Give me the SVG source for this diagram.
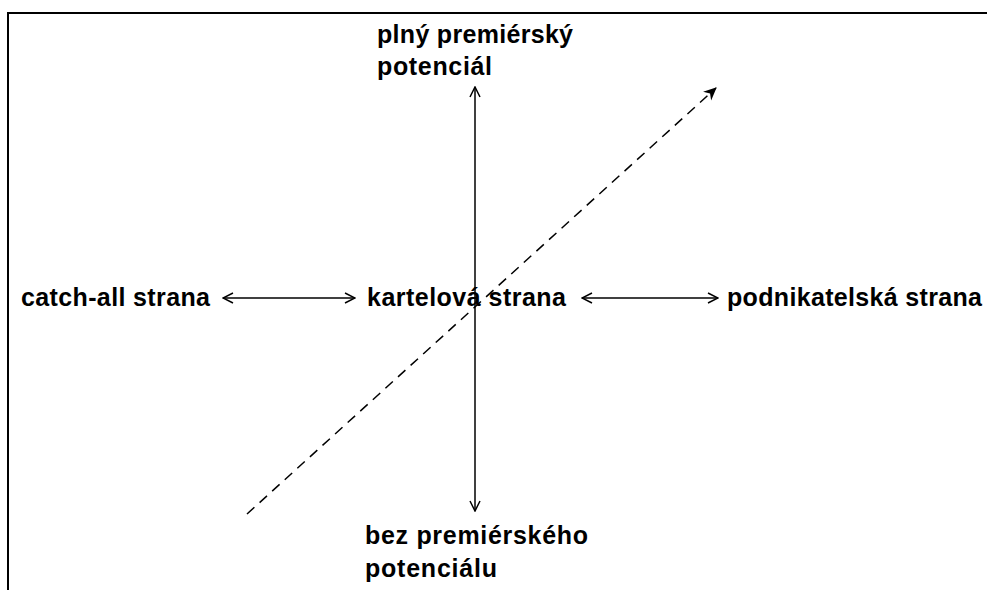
<svg xmlns="http://www.w3.org/2000/svg" width="987" height="590" viewBox="0 0 987 590">
<style>
.t{font-family:"Liberation Sans",Arial,sans-serif;font-weight:bold;font-size:25px;fill:#000}
.l{stroke:#000;stroke-width:1.5;fill:none}
</style>
<defs>
<marker id="open" viewBox="0 0 12 12" refX="11" refY="6" markerWidth="12" markerHeight="12" markerUnits="userSpaceOnUse" orient="auto-start-reverse">
<path d="M1,1 L11,6 L1,11" fill="none" stroke="#000" stroke-width="1.5"/>
</marker>
<marker id="fill" viewBox="0 0 14 14" refX="12" refY="7" markerWidth="14" markerHeight="14" markerUnits="userSpaceOnUse" orient="auto">
<path d="M0,1 L13,7 L0,13 L4,7 Z" fill="#000"/>
</marker>
</defs>
<rect width="987" height="590" fill="#fff"/>
<g id="frame">
<path d="M8,590 L8,13 L987,13" stroke="#000" stroke-width="2" fill="none"/>
</g>
<g id="connectors">
<line class="l" x1="475" y1="87" x2="475" y2="511" marker-start="url(#open)" marker-end="url(#open)"/>
<line class="l" x1="223" y1="298" x2="355" y2="298" marker-start="url(#open)" marker-end="url(#open)"/>
<line class="l" x1="582" y1="298" x2="718" y2="298" marker-start="url(#open)" marker-end="url(#open)"/>
<line class="l" x1="247" y1="514" x2="716" y2="88" stroke-width="2" stroke-dasharray="10,7" marker-end="url(#fill)"/>
</g>
<g id="top"><text class="t" x="377" y="43" textLength="196" lengthAdjust="spacing">plný premiérský</text><text class="t" x="377" y="75" textLength="115" lengthAdjust="spacing">potenciál</text></g>
<g id="left"><text class="t" x="21" y="306" textLength="189" lengthAdjust="spacing">catch-all strana</text></g>
<g id="center"><text class="t" x="367" y="306" textLength="199" lengthAdjust="spacing">kartelová strana</text></g>
<g id="right"><text class="t" x="727" y="306" textLength="255" lengthAdjust="spacing">podnikatelská strana</text></g>
<g id="bottom"><text class="t" x="365" y="544" textLength="223" lengthAdjust="spacing">bez premiérského</text><text class="t" x="365" y="577" textLength="132" lengthAdjust="spacing">potenciálu</text></g>
</svg>
